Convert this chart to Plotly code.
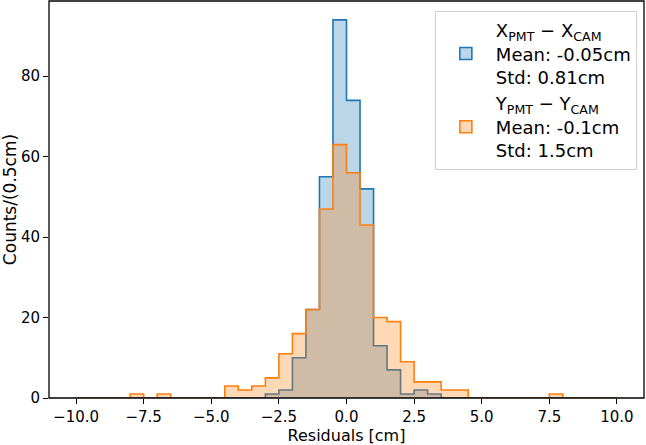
import plotly.graph_objects as go

# bin edges: -10 .. 10 in 0.5 steps
bin_lo = -10.0
bin_width = 0.5
n_bins = 40

# counts per bin (index 0 -> [-10,-9.5])
x_counts = [0]*14 + [1, 2, 10, 22, 55, 94, 74, 52, 13, 7, 1, 2, 1] + [0]*13
y_counts = ([0]*4 + [1, 0, 1] + [0]*4 + [3, 2, 3, 5, 11, 16, 22, 47, 63, 56, 43, 20, 19, 9, 4, 4, 2, 2]
            + [0]*6 + [1] + [0]*4)

x_label = "X<sub>PMT</sub> − X<sub>CAM</sub><br>Mean: -0.05cm<br>Std: 0.81cm"
y_label = "Y<sub>PMT</sub> − Y<sub>CAM</sub><br>Mean: -0.1cm<br>Std: 1.5cm"

x_tick_vals = [-10, -7.5, -5, -2.5, 0, 2.5, 5, 7.5, 10]
x_tick_text = ["−10.0", "−7.5", "−5.0", "−2.5", "0.0", "2.5", "5.0", "7.5", "10.0"]
y_tick_vals = [0, 20, 40, 60, 80]

edges = [bin_lo + i*bin_width for i in range(n_bins + 1)]


def step_xy(counts):
    xs = [edges[0]] + edges
    ys = [0] + list(counts) + [0]
    return xs, ys


fig = go.Figure()
series = [
    (x_counts, x_label, "#1f77b4", "rgba(31,119,180,0.3)"),
    (y_counts, y_label, "#ff7f0e", "rgba(255,127,14,0.3)"),
]
for counts, name, line_c, fill_c in series:
    xs, ys = step_xy(counts)
    fig.add_trace(go.Scatter(
        x=xs, y=ys, mode="lines", line=dict(color=line_c, width=1.6, shape="hv"),
        fill="toself", fillcolor=fill_c, name=name, showlegend=False,
    ))
# legend patches (no drawn marks)
for counts, name, line_c, fill_c in series:
    fig.add_trace(go.Bar(
        x=[None], y=[None], name=name,
        marker=dict(color=fill_c, line=dict(color=line_c, width=1.6)),
    ))

font = "DejaVu Sans, Verdana, sans-serif"
fig.update_layout(
    width=646, height=445,
    margin=dict(l=49, r=2, t=1, b=42),
    plot_bgcolor="white", paper_bgcolor="white",
    font=dict(family=font, size=15, color="black"),
    showlegend=True,
    legend=dict(
        x=0.988, y=0.975, xanchor="right", yanchor="top",
        bgcolor="rgba(255,255,255,0.8)", bordercolor="#d0d0d0", borderwidth=1,
        font=dict(size=18, family=font), tracegroupgap=0, valign="middle",
        itemwidth=50,
    ),
    shapes=[dict(type="rect", xref="paper", yref="paper", x0=0, x1=1, y0=0, y1=1,
                 line=dict(color="black", width=1.3), layer="above")],
    xaxis=dict(
        range=[-11, 11], tickvals=x_tick_vals, ticktext=x_tick_text,
        showgrid=False, zeroline=False, showline=False,
        ticks="outside", ticklen=5, tickcolor="black",
        title=dict(text="Residuals [cm]", standoff=7, font=dict(size=16)),
    ),
    yaxis=dict(
        range=[0, 98.7], tickvals=y_tick_vals,
        showgrid=False, zeroline=False, showline=False,
        ticks="outside", ticklen=5, tickcolor="black",
        title=dict(text="Counts/(0.5cm)", standoff=7, font=dict(size=17)),
    ),
)
fig.write_html("out.html")
